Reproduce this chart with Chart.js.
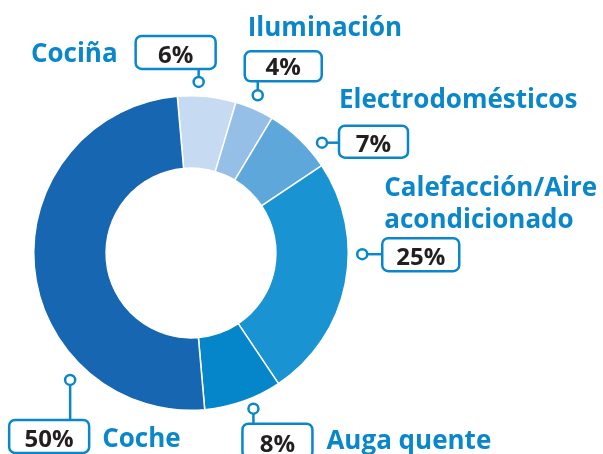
<!DOCTYPE html>
<html>
<head>
<meta charset="utf-8">
<script src="https://cdn.jsdelivr.net/npm/chart.js@4"></script>
<style>
  html, body { margin: 0; padding: 0; background: #fff; }
  #wrap { width: 603px; height: 454px; }
</style>
</head>
<body>
<div id="wrap"><canvas id="energyChart" width="603" height="454"></canvas></div>
<script>
const categories = ['Cociña', 'Iluminación', 'Electrodomésticos', 'Calefacción/Aire acondicionado', 'Auga quente', 'Coche'];
const labelLines = [['Cociña'], ['Iluminación'], ['Electrodomésticos'], ['Calefacción/Aire', 'acondicionado'], ['Auga quente'], ['Coche']];
const shares = [6, 4, 7, 25, 8, 50];
const sliceColors = ['#c6dbf1', '#95bfe6', '#5ea7da', '#1a93d3', '#0586cb', '#1766b1'];

const BLUE = '#0a87ca';

// where each callout sits: point along the slice (0..1), gap past the ring, box offset from the dot, text baseline placement
const callouts = [
    { frac: 0.35, gap: 14, box: [-63, -46, 80, 33], side: 'up', text: { x: -18, y: 26, align: 'right' } },
    { frac: 0.44, gap: 14, box: [-13, -44, 77, 30], side: 'up', text: { x: 3, y: -15, align: 'left' } },
    { frac: 0.75, gap: 14, box: [17, -17, 69, 32], side: 'right', text: { x: 0, y: -18, align: 'left' } },
    { frac: 0.38, gap: 14, box: [20, -16, 77, 33], side: 'right', text: { x: 2, y: -42, align: 'left', lh: 32 } },
    { frac: 0.415, gap: 10.5, box: [-11, 15, 70, 34], side: 'down', text: { x: 84, y: 25, align: 'left' } },
    { frac: 0.27, gap: 18, box: [-61, 40, 80, 33], side: 'down', text: { x: 93, y: 27, align: 'left' } }
];

function roundRect(ctx, x, y, w, h, r) {
    ctx.beginPath();
    ctx.moveTo(x + r, y);
    ctx.lineTo(x + w - r, y);
    ctx.arcTo(x + w, y, x + w, y + r, r);
    ctx.lineTo(x + w, y + h - r);
    ctx.arcTo(x + w, y + h, x + w - r, y + h, r);
    ctx.lineTo(x + r, y + h);
    ctx.arcTo(x, y + h, x, y + h - r, r);
    ctx.lineTo(x, y + r);
    ctx.arcTo(x, y, x + r, y, r);
    ctx.closePath();
}

const calloutPlugin = {
    id: 'callouts',
    afterDatasetsDraw(chart) {
        const ctx = chart.ctx;
        const arcs = chart.getDatasetMeta(0).data;
        ctx.save();
        arcs.forEach((arc, i) => {
            const c = callouts[i];
            const p = arc.getProps(['x', 'y', 'startAngle', 'endAngle', 'outerRadius'], true);
            const ang = p.startAngle + (p.endAngle - p.startAngle) * c.frac;
            const r = p.outerRadius + c.gap;
            const dx = p.x + Math.cos(ang) * r;
            const dy = p.y + Math.sin(ang) * r;
            const [bx0, by0, bw, bh] = c.box;
            const bx = dx + bx0, by = dy + by0;

            // leader line
            ctx.strokeStyle = BLUE;
            ctx.lineWidth = 2.5;
            ctx.beginPath();
            if (c.side === 'up') { ctx.moveTo(dx, dy); ctx.lineTo(dx, by + bh); }
            else if (c.side === 'down') { ctx.moveTo(dx, dy); ctx.lineTo(dx, by); }
            else { ctx.moveTo(dx, dy); ctx.lineTo(bx, dy); }
            ctx.stroke();

            // dot
            ctx.beginPath();
            ctx.arc(dx, dy, 5, 0, Math.PI * 2);
            ctx.fillStyle = '#fff';
            ctx.fill();
            ctx.stroke();

            // box with the share
            roundRect(ctx, bx, by, bw, bh, 6);
            ctx.fillStyle = '#fff';
            ctx.fill();
            ctx.stroke();
            ctx.fillStyle = '#231f20';
            ctx.font = 'bold 24px "Open Sans", sans-serif';
            ctx.textAlign = 'center';
            ctx.textBaseline = 'alphabetic';
            ctx.fillText(shares[i] + '%', bx + bw / 2, by + bh - 6);

            // category text
            ctx.fillStyle = BLUE;
            ctx.font = 'bold 26px "Open Sans", sans-serif';
            ctx.textAlign = c.text.align;
            const lh = c.text.lh || 30;
            labelLines[i].forEach((line, k) => {
                ctx.fillText(line, bx + c.text.x, by + c.text.y + k * lh);
            });
        });
        ctx.restore();
    }
};

new Chart(document.getElementById('energyChart'), {
    type: 'doughnut',
    data: {
        labels: categories,
        datasets: [{
            data: shares,
            backgroundColor: sliceColors,
            borderColor: '#ffffff',
            borderWidth: 1.5
        }]
    },
    options: {
        responsive: false,
        animation: false,
        rotation: -5,
        cutout: '54%',
        layout: { padding: { left: 33, top: 95, right: 254, bottom: 43 } },
        plugins: {
            legend: { display: false },
            tooltip: { enabled: false }
        }
    },
    plugins: [calloutPlugin]
});
</script>
</body>
</html>
